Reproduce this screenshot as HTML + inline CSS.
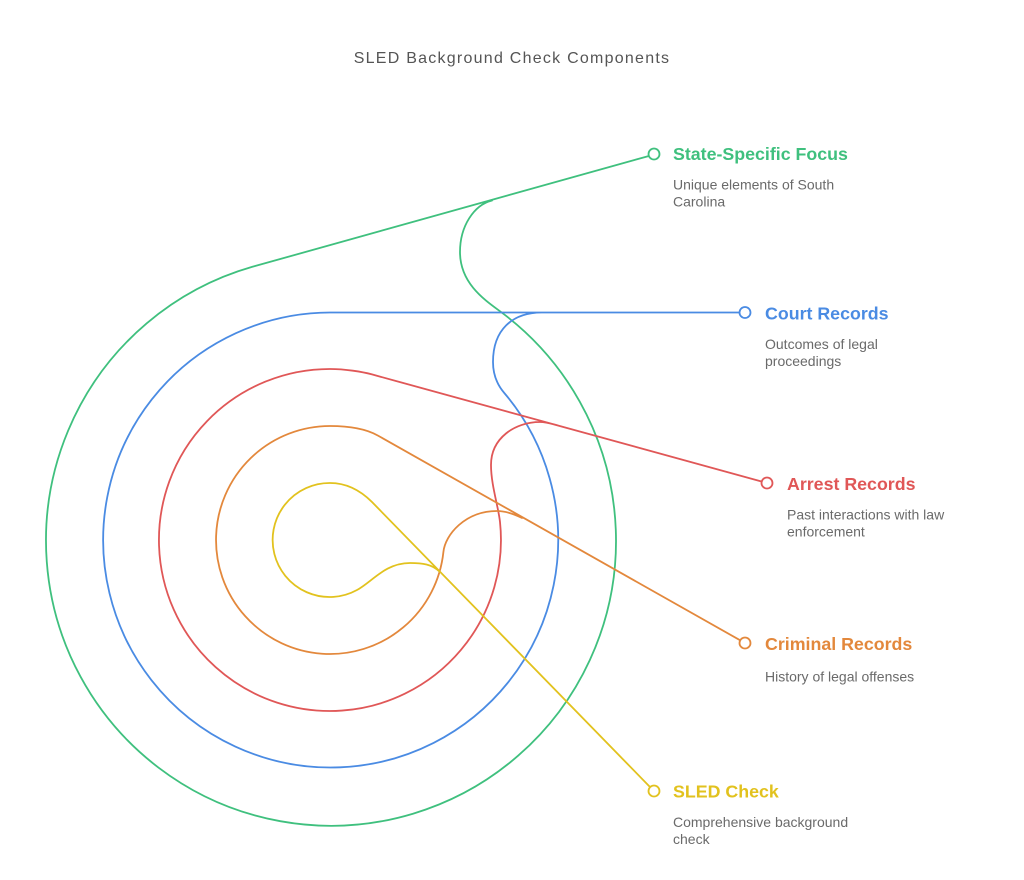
<!DOCTYPE html>
<html>
<head>
<meta charset="utf-8">
<style>
  html,body{margin:0;padding:0;background:#fff;}
  body{width:1024px;height:880px;overflow:hidden;}
  svg{display:block;}
  .t{font-family:"Liberation Sans",Arial,sans-serif;font-weight:bold;font-size:17.8px;}
  .d{font-family:"Liberation Sans",Arial,sans-serif;font-size:14px;fill:#6a6a6a;}
  .h{font-family:"Liberation Sans",Arial,sans-serif;font-size:16px;fill:#555;letter-spacing:1.25px;}
</style>
</head>
<body>
<svg width="1024" height="880" viewBox="0 0 1024 880" xmlns="http://www.w3.org/2000/svg">
  <rect width="1024" height="880" fill="#fff"/>
  <text class="h" x="512" y="63" text-anchor="middle">SLED Background Check Components</text>

  <g fill="none" stroke-width="1.8" stroke-linecap="round" stroke-linejoin="round">
    <!-- Green -->
    <path stroke="#3fc07e" d="M 648,156.2 L 252.4,266.8 A 285 285 0 1 0 500.6,311.7 C 484,299.5 460,283 460,252 C 460,226 474,205 492,200.5"/>
    <!-- Blue -->
    <path stroke="#4a8be3" d="M 739,312.5 L 330,312.5 A 227.5 227.5 0 1 0 504.3,393 C 497,384.5 493,375 493,362 C 493,330 512,312.5 542,312.5"/>
    <!-- Red -->
    <path stroke="#e05757" d="M 761.5,481.5 L 372,374.4 C 362,371.7 345,369 330,369 A 171 171 0 1 0 500,522 C 498.5,507 491,485 491,465 C 491,438 515,422 540,422 C 547,422 552,424 558,425.5"/>
    <!-- Orange -->
    <path stroke="#e3883c" d="M 740,640.2 L 378,435.6 C 366,428.8 348,426 330,426 A 114 114 0 1 0 443.4,552 C 445,535 465,511 497,511 C 505,511 513,513.5 522,518"/>
    <!-- Yellow -->
    <path stroke="#e2c21e" d="M 650,787 L 372,502 C 362,492 348,483 330,483 A 57 57 0 1 0 357,590 C 372,582 385,563 410,563 C 422,563 432,564 440,572"/>
  </g>

  <g fill="#fff" stroke-width="1.8">
    <circle cx="654" cy="154" r="5.5" stroke="#3fc07e"/>
    <circle cx="745" cy="312.5" r="5.5" stroke="#4a8be3"/>
    <circle cx="767" cy="483" r="5.5" stroke="#e05757"/>
    <circle cx="745" cy="643" r="5.5" stroke="#e3883c"/>
    <circle cx="654" cy="791" r="5.5" stroke="#e2c21e"/>
  </g>

  <text class="t" x="673" y="160" fill="#3fc07e">State-Specific Focus</text>
  <text class="d" x="673" y="189.5">Unique elements of South</text>
  <text class="d" x="673" y="206.5">Carolina</text>

  <text class="t" x="765" y="319.5" fill="#4a8be3">Court Records</text>
  <text class="d" x="765" y="349">Outcomes of legal</text>
  <text class="d" x="765" y="366">proceedings</text>

  <text class="t" x="787" y="490" fill="#e05757">Arrest Records</text>
  <text class="d" x="787" y="519.5">Past interactions with law</text>
  <text class="d" x="787" y="536.5">enforcement</text>

  <text class="t" x="765" y="650" fill="#e3883c">Criminal Records</text>
  <text class="d" x="765" y="681.5">History of legal offenses</text>

  <text class="t" x="673" y="797.5" fill="#e2c21e">SLED Check</text>
  <text class="d" x="673" y="827">Comprehensive background</text>
  <text class="d" x="673" y="844">check</text>
</svg>
</body>
</html>
